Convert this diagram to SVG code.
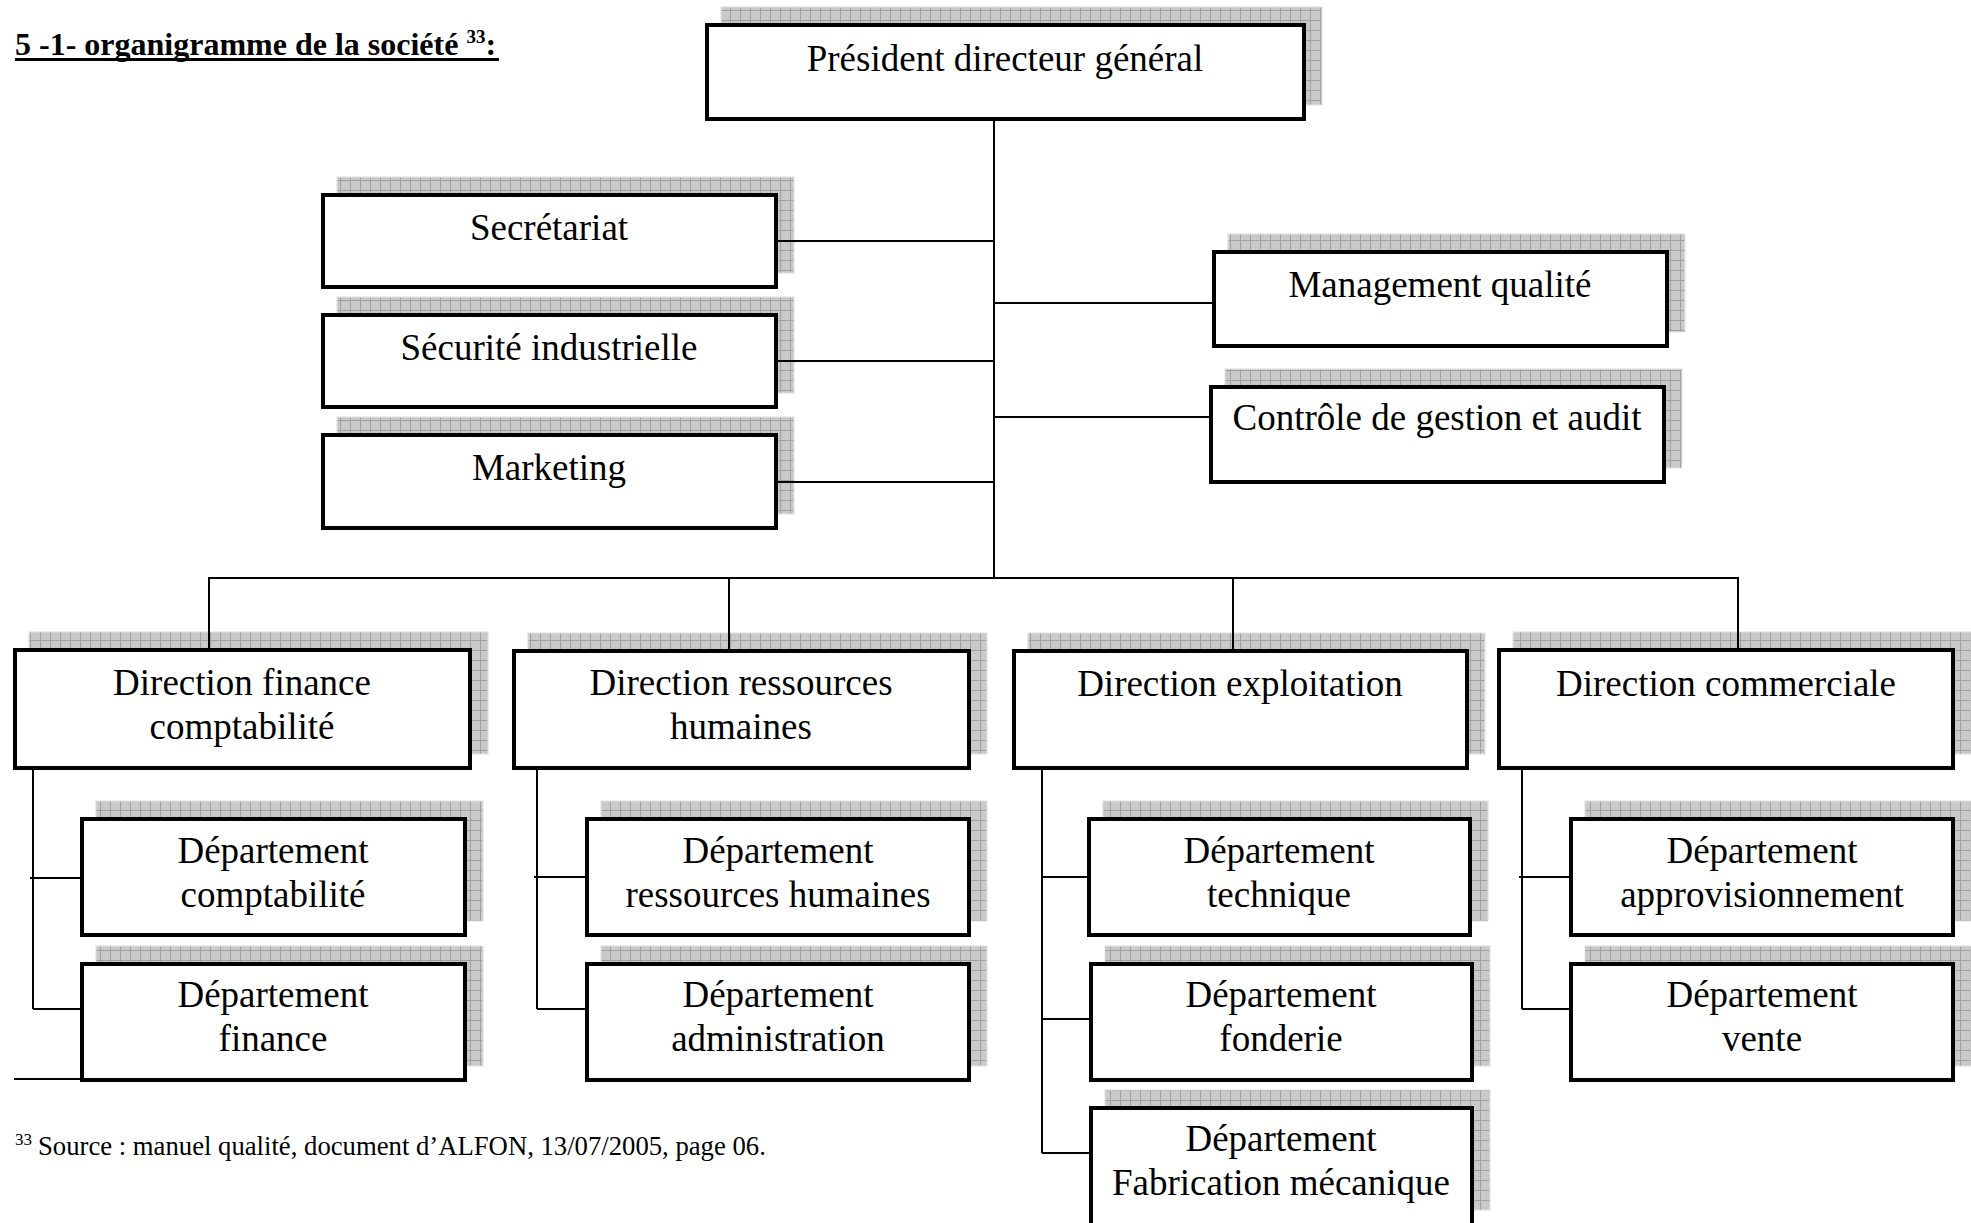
<svg xmlns="http://www.w3.org/2000/svg" width="1971" height="1223" viewBox="0 0 1971 1223">
<defs>
<pattern id="grid" width="10" height="10" patternUnits="userSpaceOnUse">
<rect width="10" height="10" fill="#c9c9c9"/>
<path d="M0 0.5H10M0.5 0V10" stroke="#a0a0a0" stroke-width="1"/>
</pattern>
</defs>
<style>
.sh{fill:url(#grid);stroke:#e0e0e0;stroke-width:1}
.bx{fill:#fff;stroke:#000;stroke-width:4}
.t{font-family:"Liberation Serif","Times New Roman",serif;font-size:37px;fill:#000;text-anchor:middle}
.c{stroke:#000;stroke-width:2;fill:none}
.ttl{font-family:"Liberation Serif","Times New Roman",serif;font-weight:bold;fill:#000}
.fn{font-family:"Liberation Serif","Times New Roman",serif;fill:#000}
</style>
<rect width="1971" height="1223" fill="#fff"/>

<g id="title">
<text class="ttl" x="15" y="55" font-size="32">5 -1- organigramme de la société <tspan font-size="19" dy="-12">33</tspan><tspan dy="12">:</tspan></text>
<rect x="15" y="58" width="484" height="3" fill="#000"/>
</g>

<g id="pdg"><rect class="sh" x="721" y="7" width="601" height="98"/><rect class="bx" x="707" y="25" width="597" height="94"/><text class="t" x="1005" y="71">Président directeur général</text></g>

<g id="secretariat"><rect class="sh" x="337" y="177" width="457" height="96"/><rect class="bx" x="323" y="195" width="453" height="92"/><text class="t" x="549" y="240">Secrétariat</text></g>
<g id="securite"><rect class="sh" x="337" y="297" width="457" height="96"/><rect class="bx" x="323" y="315" width="453" height="92"/><text class="t" x="549" y="360">Sécurité industrielle</text></g>
<g id="marketing"><rect class="sh" x="337" y="417" width="457" height="97"/><rect class="bx" x="323" y="435" width="453" height="93"/><text class="t" x="549" y="480">Marketing</text></g>

<g id="management"><rect class="sh" x="1228" y="234" width="457" height="98"/><rect class="bx" x="1214" y="252" width="453" height="94"/><text class="t" x="1440" y="297">Management qualité</text></g>
<g id="controle"><rect class="sh" x="1225" y="369" width="457" height="99"/><rect class="bx" x="1211" y="387" width="453" height="95"/><text class="t" x="1437" y="430">Contrôle de gestion et audit</text></g>

<g id="dir-finance"><rect class="sh" x="29" y="632" width="459" height="122"/><rect class="bx" x="15" y="650" width="455" height="118"/><text class="t" x="242" y="695">Direction finance</text><text class="t" x="242" y="739">comptabilité</text></g>
<g id="dir-rh"><rect class="sh" x="528" y="633" width="459" height="121"/><rect class="bx" x="514" y="651" width="455" height="117"/><text class="t" x="741" y="695">Direction ressources</text><text class="t" x="741" y="739">humaines</text></g>
<g id="dir-exploitation"><rect class="sh" x="1028" y="633" width="457" height="121"/><rect class="bx" x="1014" y="651" width="453" height="117"/><text class="t" x="1240" y="696">Direction exploitation</text></g>
<g id="dir-commerciale"><rect class="sh" x="1513" y="632" width="458" height="122"/><rect class="bx" x="1499" y="650" width="454" height="118"/><text class="t" x="1726" y="696">Direction commerciale</text></g>

<g id="dep-comptabilite"><rect class="sh" x="96" y="801" width="387" height="120"/><rect class="bx" x="82" y="819" width="383" height="116"/><text class="t" x="273" y="863">Département</text><text class="t" x="273" y="907">comptabilité</text></g>
<g id="dep-finance"><rect class="sh" x="96" y="946" width="387" height="120"/><rect class="bx" x="82" y="964" width="383" height="116"/><text class="t" x="273" y="1007">Département</text><text class="t" x="273" y="1051">finance</text></g>

<g id="dep-rh"><rect class="sh" x="601" y="801" width="386" height="120"/><rect class="bx" x="587" y="819" width="382" height="116"/><text class="t" x="778" y="863">Département</text><text class="t" x="778" y="907">ressources humaines</text></g>
<g id="dep-administration"><rect class="sh" x="601" y="946" width="386" height="120"/><rect class="bx" x="587" y="964" width="382" height="116"/><text class="t" x="778" y="1007">Département</text><text class="t" x="778" y="1051">administration</text></g>

<g id="dep-technique"><rect class="sh" x="1103" y="801" width="385" height="120"/><rect class="bx" x="1089" y="819" width="381" height="116"/><text class="t" x="1279" y="863">Département</text><text class="t" x="1279" y="907">technique</text></g>
<g id="dep-fonderie"><rect class="sh" x="1105" y="946" width="385" height="120"/><rect class="bx" x="1091" y="964" width="381" height="116"/><text class="t" x="1281" y="1007">Département</text><text class="t" x="1281" y="1051">fonderie</text></g>
<g id="dep-fabrication"><rect class="sh" x="1105" y="1090" width="385" height="120"/><rect class="bx" x="1091" y="1108" width="381" height="140"/><text class="t" x="1281" y="1151">Département</text><text class="t" x="1281" y="1195">Fabrication mécanique</text></g>

<g id="dep-approvisionnement"><rect class="sh" x="1585" y="801" width="386" height="120"/><rect class="bx" x="1571" y="819" width="382" height="116"/><text class="t" x="1762" y="863">Département</text><text class="t" x="1762" y="907">approvisionnement</text></g>
<g id="dep-vente"><rect class="sh" x="1585" y="946" width="386" height="120"/><rect class="bx" x="1571" y="964" width="382" height="116"/><text class="t" x="1762" y="1007">Département</text><text class="t" x="1762" y="1051">vente</text></g>

<g id="connectors" class="c">
<path class="c" d="M994 121V578"/>
<path class="c" d="M778 241H994M778 361H994M778 482H994"/>
<path class="c" d="M994 303H1212M994 417H1209"/>
<path class="c" d="M209 578H1738M209 577V648M729 577V649M1233 577V649M1738 577V648"/>
<path class="c" d="M33 770V1009M30 878H80M33 1009H80M14 1079H80"/>
<path class="c" d="M537 770V1009M534 877H585M537 1009H585"/>
<path class="c" d="M1042 770V1153M1042 877H1090M1042 1019H1089M1042 1153H1089"/>
<path class="c" d="M1522 770V1009M1519 877H1569M1522 1009H1569"/>
</g>

<g id="footnote">
<text class="fn" x="15" y="1145" font-size="17">33</text>
<text class="fn" x="38" y="1155" font-size="26.7">Source : manuel qualité, document d’ALFON, 13/07/2005, page 06.</text>
</g>
</svg>
